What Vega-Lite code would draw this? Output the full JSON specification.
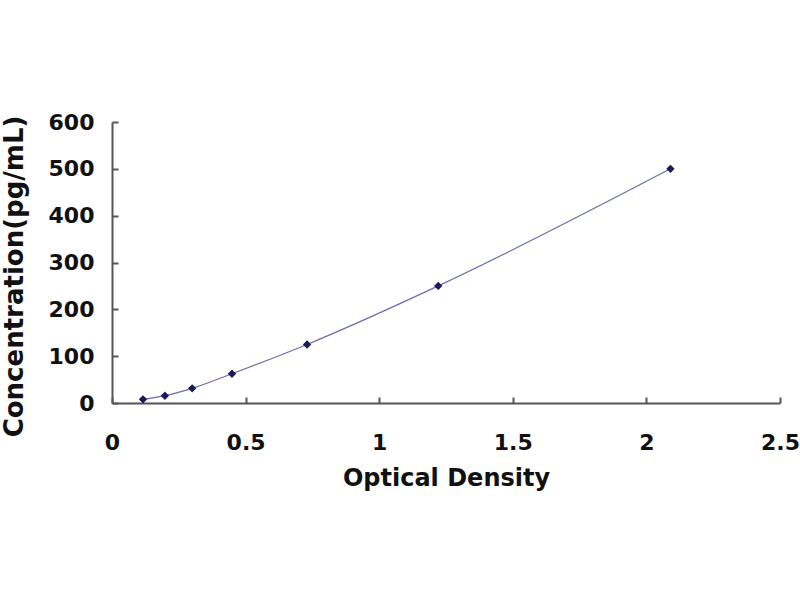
{
  "$schema": "https://vega.github.io/schema/vega-lite/v6.json",
  "width": 668,
  "height": 281,
  "autosize": {"type": "none"},
  "padding": {"left": 112, "top": 122, "right": 20, "bottom": 197},
  "background": "white",
  "data": {"values": [
    {"od": 0.116, "conc": 7.8},
    {"od": 0.198, "conc": 15.6},
    {"od": 0.300, "conc": 31.25},
    {"od": 0.449, "conc": 62.5},
    {"od": 0.730, "conc": 125},
    {"od": 1.221, "conc": 250},
    {"od": 2.090, "conc": 500}
  ]},
  "encoding": {
    "x": {"field": "od", "type": "quantitative", "title": "Optical Density",
      "scale": {"domain": [0, 2.5], "nice": false, "zero": true},
      "axis": {"values": [0, 0.5, 1, 1.5, 2, 2.5], "format": "~g", "grid": false,
        "domainColor": "#555555", "domainWidth": 2, "tickColor": "#555555", "tickWidth": 2, "tickSize": -6,
        "labelFont": "DejaVu Sans", "labelFontWeight": "bold", "labelFontSize": 22, "labelColor": "#111111",
        "labelPadding": 35, "labelFlush": false,
        "titleFont": "DejaVu Sans", "titleFontWeight": "bold", "titleFontSize": 24, "titleColor": "#111111", "titlePadding": 13}},
    "y": {"field": "conc", "type": "quantitative", "title": "Concentration(pg/mL)",
      "scale": {"domain": [0, 600], "nice": false},
      "axis": {"values": [0, 100, 200, 300, 400, 500, 600], "grid": false,
        "domainColor": "#555555", "domainWidth": 2, "tickColor": "#555555", "tickWidth": 2, "tickSize": -6,
        "labelFont": "DejaVu Sans", "labelFontWeight": "bold", "labelFontSize": 22, "labelColor": "#111111",
        "labelPadding": 24,
        "titleFont": "DejaVu Sans", "titleFontWeight": "bold", "titleFontSize": 26, "titleColor": "#111111", "titlePadding": 21, "titleY": 154}}
  },
  "layer": [
    {"mark": {"type": "line", "interpolate": "monotone", "color": "#6b6bb0", "strokeWidth": 1.2}},
    {"mark": {"type": "point", "shape": "diamond", "filled": true, "color": "#1a1a5a", "size": 70, "opacity": 1}}
  ],
  "config": {"view": {"stroke": null}}
}
